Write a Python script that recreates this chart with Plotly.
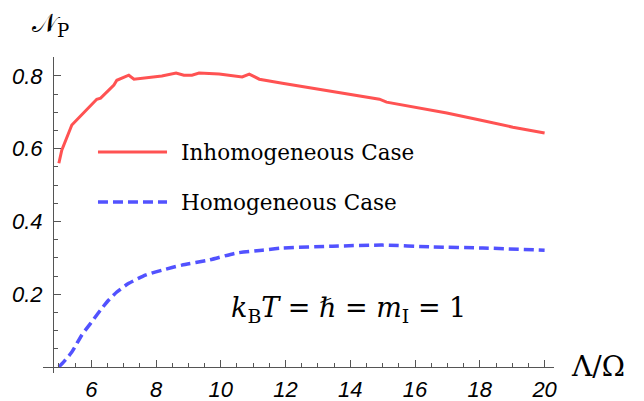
import plotly.graph_objects as go

# ---- data ----
inhom_x = [5.0, 5.09, 5.4, 5.61, 5.92, 6.17, 6.29, 6.54, 6.7, 6.79, 7.01, 7.16, 7.32, 7.56,
           8.18, 8.62, 8.86, 9.11, 9.33, 9.95, 10.66, 10.88, 11.19, 11.9, 12.64, 13.04,
           13.66, 14.9, 15.12, 16.98, 18.0, 19.02, 20.0]
inhom_y = [0.56, 0.596, 0.665, 0.684, 0.714, 0.736, 0.739, 0.761, 0.775, 0.788, 0.797, 0.802,
           0.791, 0.794, 0.80, 0.808, 0.802, 0.802, 0.808, 0.805, 0.797, 0.805, 0.791, 0.78,
           0.769, 0.764, 0.753, 0.736, 0.728, 0.698, 0.679, 0.659, 0.643]

hom_x = [5.0, 5.15, 5.4, 5.71, 5.98, 6.29, 6.54, 6.79, 7.16, 7.69, 8.18, 8.8, 9.64, 10.47,
         11.28, 11.9, 13.45, 14.99, 16.54, 18.09, 20.0]
hom_y = [0.0, 0.014, 0.041, 0.088, 0.12, 0.157, 0.184, 0.206, 0.23, 0.253, 0.266, 0.28,
         0.294, 0.313, 0.321, 0.327, 0.332, 0.335, 0.33, 0.327, 0.321]

x_ticks = [6, 8, 10, 12, 14, 16, 18, 20]
y_ticks = [0.2, 0.4, 0.6, 0.8]
y_tick_labels = ["0.2", "0.4", "0.6", "0.8"]

RED = "#FF5252"
BLUE = "#5252FF"
AXC = "#555555"
SERIF = "DejaVu Serif"
SANS = "Liberation Sans"

fig = go.Figure()
fig.add_trace(go.Scatter(x=inhom_x, y=inhom_y, mode="lines", name="Inhomogeneous Case",
                         line=dict(color=RED, width=3)))
fig.add_trace(go.Scatter(x=hom_x, y=hom_y, mode="lines", name="Homogeneous Case",
                         line=dict(color=BLUE, width=3.5, dash="10px,5px", shape="spline", smoothing=0.6)))

# page body has an 8px margin, so the figure is sized 636x393 and offset accordingly
fig.update_layout(
    template="none",
    width=636, height=393, autosize=False,
    margin=dict(l=35, r=90, t=49, b=28),
    plot_bgcolor="white", paper_bgcolor="white",
    showlegend=False,
    xaxis=dict(range=[4.51, 20.29], showgrid=False, zeroline=False, showline=True, automargin=False,
               linecolor=AXC, linewidth=1, anchor="free", position=0.019,
               tickvals=x_ticks, ticktext=[str(v) for v in x_ticks],
               ticks="inside", ticklen=7, tickcolor=AXC, tickwidth=1,
               minor=dict(dtick=0.5, tick0=5, ticks="inside", ticklen=4, tickcolor=AXC, showgrid=False),
               tickfont=dict(family=SANS, size=22, color="black", style="italic"),
               ticklabelstandoff=3),
    yaxis=dict(range=[-0.0165, 0.852], showgrid=False, zeroline=False, showline=True, automargin=False,
               linecolor=AXC, linewidth=1, anchor="free", position=0.0196,
               tickvals=y_ticks, ticktext=y_tick_labels,
               ticks="inside", ticklen=7, tickcolor=AXC, tickwidth=1,
               minor=dict(dtick=0.05, tick0=0, ticks="inside", ticklen=4, tickcolor=AXC, showgrid=False),
               tickfont=dict(family=SANS, size=22, color="black", style="italic"),
               ticklabelstandoff=6),
)

# legend samples drawn manually
fig.add_shape(type="line", xref="paper", yref="paper", x0=0.1076, x1=0.2427, y0=0.699, y1=0.699,
              line=dict(color=RED, width=3))
fig.add_shape(type="line", xref="paper", yref="paper", x0=0.1076, x1=0.2427, y0=0.541, y1=0.541,
              line=dict(color=BLUE, width=3.5, dash="10px,5px"))
fig.add_annotation(xref="paper", yref="paper", x=0.266, y=0.699, xanchor="left", yanchor="middle",
                   text="Inhomogeneous Case", showarrow=False,
                   font=dict(family=SERIF, size=21.5, color="black"))
fig.add_annotation(xref="paper", yref="paper", x=0.266, y=0.541, xanchor="left", yanchor="middle",
                   text="Homogeneous Case", showarrow=False,
                   font=dict(family=SERIF, size=21.5, color="black"))

fig.add_annotation(xref="paper", yref="paper", x=0.598, y=0.200, xanchor="center", yanchor="middle",
                   text="<i>k</i><sub>B</sub><i>T</i> = ℏ = <i>m</i><sub>I</sub> = 1", showarrow=False,
                   font=dict(family=SERIF, size=27, color="black"))
fig.add_annotation(xref="paper", yref="paper", x=1.029, y=0.019, xanchor="left", yanchor="middle",
                   text="Λ/Ω", showarrow=False,
                   font=dict(family=SERIF, size=28, color="black"))
fig.add_annotation(xref="paper", yref="paper", x=-0.0254, y=1.104, xanchor="left", yanchor="middle",
                   text="𝒩<sub>P</sub>", showarrow=False,
                   font=dict(family=SERIF, size=26, color="black"))

fig.write_html("out.html")
